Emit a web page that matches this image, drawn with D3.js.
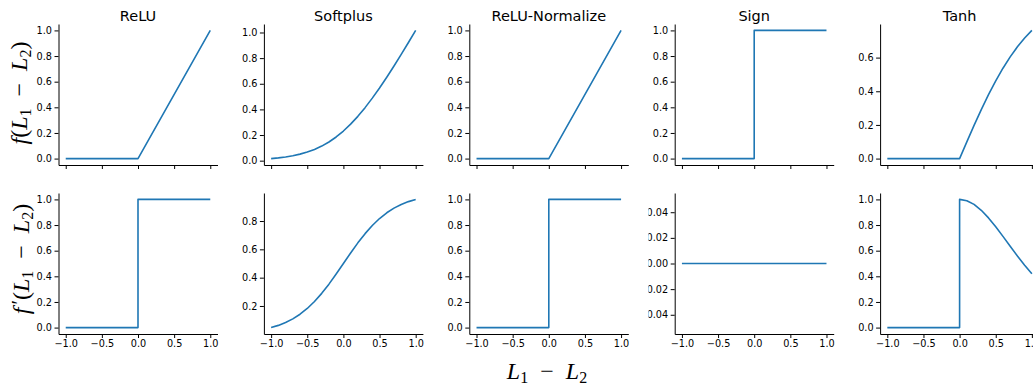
<!DOCTYPE html>
<html>
<head>
<meta charset="utf-8">
<script src="https://cdn.jsdelivr.net/npm/d3@7"></script>
<style>
  html, body { margin: 0; padding: 0; background: #fff; overflow: hidden; }
  svg { display: block; }
</style>
</head>
<body>
<div id="chart"></div>
<script>
// activation functions and their gradients
const titles = ['ReLU', 'Softplus', 'ReLU-Normalize', 'Sign', 'Tanh'];

const gridX = [-1.0, -0.9, -0.8, -0.7, -0.6, -0.5, -0.4, -0.3, -0.2, -0.1, 0.0,
  0.1, 0.2, 0.3, 0.4, 0.5, 0.6, 0.7, 0.8, 0.9, 1.0];
const posX = [-1.0, 0.0, 0.1, 0.2, 0.3, 0.4, 0.5, 0.6, 0.7, 0.8, 0.9, 1.0];

const reluX = [-1, 0, 1];
const reluY = [0, 0, 1];
const reluGradX = [-1, 0, 0, 1];
const reluGradY = [0, 0, 1, 1];

const softplusY = [0.0162, 0.0217, 0.0290, 0.0385, 0.0510, 0.0671, 0.0878, 0.1137, 0.1458, 0.1848, 0.2311,
  0.2848, 0.3458, 0.4137, 0.4878, 0.5671, 0.6510, 0.7385, 0.8290, 0.9217, 1.0162];
const softplusGradY = [0.0474, 0.0630, 0.0832, 0.1091, 0.1419, 0.1824, 0.2315, 0.2891, 0.3543, 0.4256, 0.5,
  0.5744, 0.6457, 0.7109, 0.7685, 0.8176, 0.8581, 0.8909, 0.9168, 0.9370, 0.9526];

const signX = [-1, 0, 0, 1];
const signY = [0, 0, 1, 1];
const signGradX = [-1, 1];
const signGradY = [0, 0];

const tanhY = [0, 0, 0.0997, 0.1974, 0.2913, 0.3799, 0.4621, 0.5370, 0.6044, 0.6640, 0.7163, 0.7616];
const tanhGradX = [-1.0, 0.0, 0.0, 0.1, 0.2, 0.3, 0.4, 0.5, 0.6, 0.7, 0.8, 0.9, 1.0];
const tanhGradY = [0, 0, 1, 0.9901, 0.9610, 0.9151, 0.8556, 0.7864, 0.7116, 0.6347, 0.5590, 0.4869, 0.4200];

const xTicks = [-1.0, -0.5, 0.0, 0.5, 1.0];
const unitTicks = [0.0, 0.2, 0.4, 0.6, 0.8, 1.0];
const softplusGradTicks = [0.2, 0.4, 0.6, 0.8];
const tanhTicks = [0.0, 0.2, 0.4, 0.6];
const signGradTicks = [-0.04, -0.02, 0.00, 0.02, 0.04];

const panels = [
  [reluX, reluY, unitTicks], [gridX, softplusY, unitTicks], [reluX, reluY, unitTicks],
  [signX, signY, unitTicks], [posX, tanhY, tanhTicks],
  [reluGradX, reluGradY, unitTicks], [gridX, softplusGradY, softplusGradTicks], [reluGradX, reluGradY, unitTicks],
  [signGradX, signGradY, signGradTicks], [tanhGradX, tanhGradY, unitTicks]
];

const width = 1033, height = 385;
const colLeft = 58.5, colStep = 205.4, panelW = 159;
const rowTop = [24, 193], panelH = 141;
const blue = '#1f77b4';
const tickFont = 'DejaVu Sans, sans-serif';

const svg = d3.select('#chart').append('svg')
  .attr('width', width)
  .attr('height', height);

// the Sign gradient tick labels are cut off on the left in the original
svg.append('defs').append('clipPath').attr('id', 'signclip')
  .append('rect').attr('x', 648.5).attr('y', 0).attr('width', 400).attr('height', height);

panels.forEach((p, i) => {
  const row = Math.floor(i / 5), col = i % 5;
  const [xs, ys, yTicks] = p;
  const left = colLeft + col * colStep, top = rowTop[row];

  const x = d3.scaleLinear().domain([-1.1, 1.1]).range([left, left + panelW]);
  let [lo, hi] = d3.extent(ys);
  if (lo === hi) { lo -= 0.05; hi += 0.05; }
  const m = (hi - lo) * 0.05;
  const y = d3.scaleLinear().domain([lo - m, hi + m]).range([top + panelH, top]);

  const g = svg.append('g');

  const xAxis = g.append('g')
    .attr('transform', `translate(0,${top + panelH})`)
    .call(d3.axisBottom(x).tickValues(xTicks).tickSize(4).tickPadding(2).tickSizeOuter(0)
      .tickFormat(row === 1 ? d3.format('.1f') : ''));

  const yWrap = g.append('g');
  if (i === 8) yWrap.attr('clip-path', 'url(#signclip)');
  const yAxis = yWrap.append('g')
    .attr('transform', `translate(${left},0)`)
    .call(d3.axisLeft(y).tickValues(yTicks).tickSize(4).tickPadding(2.5).tickSizeOuter(0)
      .tickFormat(d3.format(i === 8 ? '.2f' : '.1f')));

  [xAxis, yAxis].forEach(a => {
    a.attr('font-family', tickFont).attr('font-size', 9.7);
    a.select('.domain').attr('stroke', '#000').attr('stroke-width', 1);
    a.selectAll('.tick line').attr('stroke', '#000').attr('stroke-width', 1);
    a.selectAll('.tick text').attr('fill', '#000');
  });

  const line = d3.line()
    .x((d, k) => x(xs[k]))
    .y(d => y(d));

  g.append('path')
    .datum(ys)
    .attr('fill', 'none')
    .attr('stroke', blue)
    .attr('stroke-width', 1.6)
    .attr('stroke-linejoin', 'round')
    .attr('d', line);

  if (row === 0) {
    g.append('text')
      .attr('x', left + panelW / 2)
      .attr('y', top - 3.5)
      .attr('text-anchor', 'middle')
      .attr('font-family', tickFont)
      .attr('font-size', 14.5)
      .attr('fill', '#000')
      .text(titles[col]);
  }
});

// math-style axis labels
function mathLabel(sel, withF, prime) {
  sel.attr('font-family', 'Liberation Serif, serif').attr('font-size', 24).attr('fill', '#000');
  if (withF) {
    sel.append('tspan').attr('font-style', 'italic').text('f');
    if (prime) sel.append('tspan').attr('font-size', 20).attr('dx', 3).attr('dy', -3).text('\u2032');
    sel.append('tspan').attr('dy', prime ? 3 : 0).text('(');
  }
  sel.append('tspan').attr('font-style', 'italic').text('L');
  sel.append('tspan').attr('font-size', 16).attr('dy', 4).text('1');
  sel.append('tspan').attr('dy', -4).text('\u2002−\u2002');
  sel.append('tspan').attr('font-style', 'italic').text('L');
  sel.append('tspan').attr('font-size', 16).attr('dy', 4).text('2');
  if (withF) sel.append('tspan').attr('dy', -4).text(')');
}

mathLabel(svg.append('text')
  .attr('text-anchor', 'middle')
  .attr('transform', 'translate(27,93) rotate(-90)'), true, false);

mathLabel(svg.append('text')
  .attr('text-anchor', 'middle')
  .attr('transform', 'translate(29,259) rotate(-90)'), true, true);

mathLabel(svg.append('text')
  .attr('text-anchor', 'middle')
  .attr('x', 547).attr('y', 379), false, false);
</script>
</body>
</html>
